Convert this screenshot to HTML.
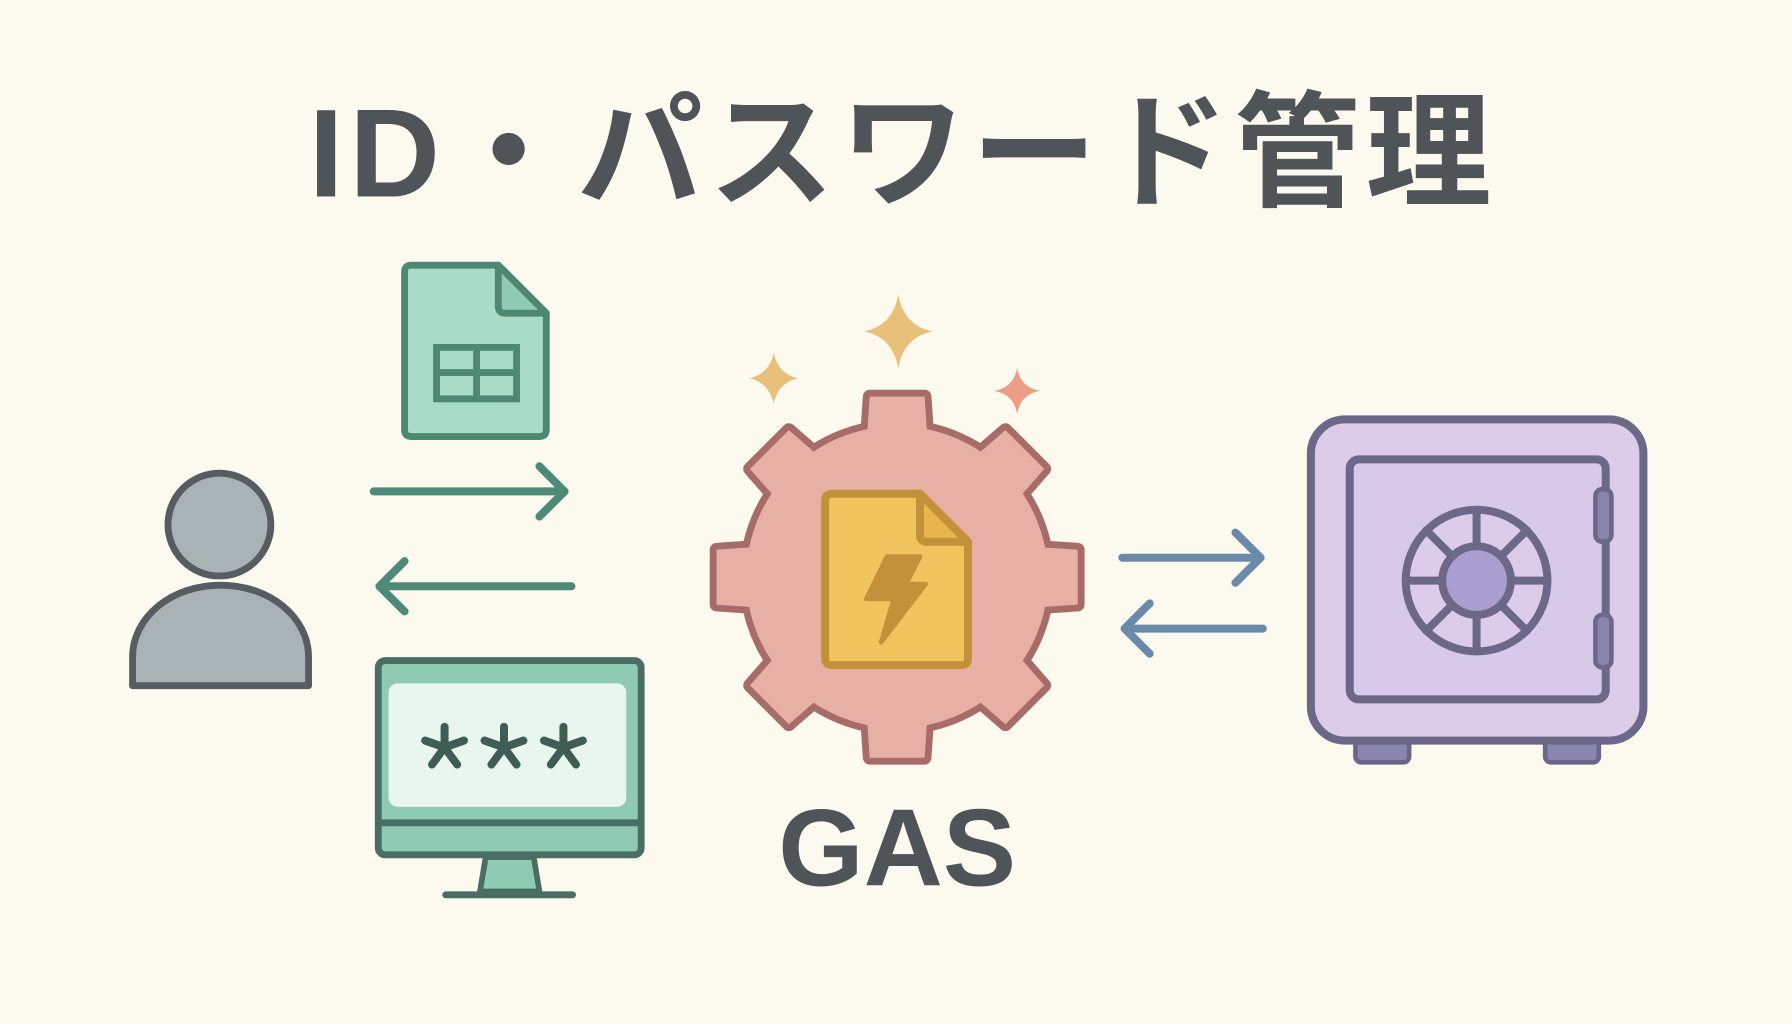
<!DOCTYPE html>
<html><head><meta charset="utf-8"><style>
html,body{margin:0;padding:0;background:#fcf9ef;}
svg{display:block}
</style></head><body>
<svg width="1792" height="1024" viewBox="0 0 1568 896" xmlns="http://www.w3.org/2000/svg">
<rect width="1568" height="896" fill="#fcf9ef"/>
<text x="790" y="172" text-anchor="middle" font-family="'Liberation Sans','Noto Sans CJK JP',sans-serif" font-weight="bold" font-size="110" letter-spacing="5" fill="#4f5458">ID・パスワード管理</text>

<!-- person -->
<circle cx="192" cy="459" r="45" fill="#a9b2b4" stroke="#565d62" stroke-width="6"/>
<path d="M116,600 L116,575 C116,540 150,512 193,512 C236,512 270,540 270,575 L270,600 Z" fill="#a9b2b4" stroke="#565d62" stroke-width="6" stroke-linejoin="round"/>

<!-- spreadsheet -->
<path d="M360,232 L436,232 L478,274 L478,376 Q478,382 472,382 L360,382 Q354,382 354,376 L354,238 Q354,232 360,232 Z" fill="#a8dcc6" stroke="#4f8872" stroke-width="6" stroke-linejoin="round"/>
<path d="M436,232 L436,268 Q436,274 442,274 L478,274 Z" fill="#8fcbb2" stroke="#4f8872" stroke-width="6" stroke-linejoin="round"/>
<rect x="382" y="304" width="70" height="45" fill="none" stroke="#4f8872" stroke-width="6"/>
<line x1="382" y1="326" x2="452" y2="326" stroke="#4f8872" stroke-width="6"/>
<line x1="417" y1="304" x2="417" y2="349" stroke="#4f8872" stroke-width="6"/>

<!-- green arrows -->
<g stroke="#4e8a78" stroke-width="7" stroke-linecap="round" stroke-linejoin="round" fill="none">
<line x1="327" y1="430" x2="494" y2="430"/><polyline points="472,408 494,430 472,452"/>
<line x1="334" y1="513" x2="500" y2="513"/><polyline points="354,491 332,513 354,535"/>
</g>

<!-- monitor -->
<rect x="331" y="578" width="230" height="170" rx="6" fill="#8fcbb2" stroke="#4a6e64" stroke-width="6"/>
<rect x="340" y="598" width="208" height="108" rx="8" fill="#e9f6ee"/>
<line x1="331" y1="720" x2="561" y2="720" stroke="#4a6e64" stroke-width="6"/>
<path d="M425,750 L467,750 L472,780 L420,780 Z" fill="#8fcbb2" stroke="#4a6e64" stroke-width="5" stroke-linejoin="round"/>
<line x1="390" y1="783" x2="501" y2="783" stroke="#4a6e64" stroke-width="6" stroke-linecap="round"/>
<g stroke="#3f5d55" stroke-width="7" stroke-linecap="round">
<g id="ast" transform="translate(389,654)"><line x1="0" y1="-18" x2="0" y2="0"/><line x1="0" y1="0" x2="17" y2="-6"/><line x1="0" y1="0" x2="-17" y2="-6"/><line x1="0" y1="0" x2="11" y2="15"/><line x1="0" y1="0" x2="-11" y2="15"/></g>
<use href="#ast" transform="translate(52,0)"/><use href="#ast" transform="translate(104,0)"/>
</g>

<!-- sparkles -->
<g>
<path d="M786,258 Q791,285 816,290 Q791,295 786,322 Q781,295 756,290 Q781,285 786,258Z" fill="#e9c07a"/>
<path d="M677,309 Q681,327 698,331 Q681,335 677,353 Q673,335 656,331 Q673,327 677,309Z" fill="#e9c07a"/>
<path d="M890,322 Q893,339 910,342 Q893,345 890,362 Q887,345 870,342 Q887,339 890,322Z" fill="#ec9d85"/>
</g>

<!-- gear -->
<g transform="translate(785,505)">
<g fill="#a86c68" stroke="#a86c68" stroke-width="12" stroke-linejoin="round">
<circle r="132"/>
<g id="t"><path d="M-28,-100 L-24,-158 L24,-158 L28,-100 Z"/></g>
<use href="#t" transform="rotate(45)"/><use href="#t" transform="rotate(90)"/><use href="#t" transform="rotate(135)"/>
<use href="#t" transform="rotate(180)"/><use href="#t" transform="rotate(225)"/><use href="#t" transform="rotate(270)"/><use href="#t" transform="rotate(315)"/>
</g>
<g fill="#e8b0a4">
<circle r="132"/>
<g id="t2"><path d="M-28,-100 L-24,-158 L24,-158 L28,-100 Z"/></g>
<use href="#t2" transform="rotate(45)"/><use href="#t2" transform="rotate(90)"/><use href="#t2" transform="rotate(135)"/>
<use href="#t2" transform="rotate(180)"/><use href="#t2" transform="rotate(225)"/><use href="#t2" transform="rotate(270)"/><use href="#t2" transform="rotate(315)"/>
</g>
</g>
<!-- gas doc -->
<path d="M728,432 L805,432 L847,474 L847,576 Q847,582 841,582 L728,582 Q722,582 722,576 L722,438 Q722,432 728,432 Z" fill="#f2c45e" stroke="#c2913a" stroke-width="7" stroke-linejoin="round"/>
<path d="M805,432 L805,468 Q805,474 811,474 L847,474 Z" fill="#e8b44e" stroke="#c2913a" stroke-width="7" stroke-linejoin="round"/>
<path d="M776,487 L805,487 L793,511 L810,511 L771,562 L782,524 L758,524 Z" fill="#c2913a" stroke="#c2913a" stroke-width="4" stroke-linejoin="round"/>

<text x="785" y="775" text-anchor="middle" font-family="'Liberation Sans',sans-serif" font-weight="bold" font-size="96" fill="#4f5458">GAS</text>

<!-- blue arrows -->
<g stroke="#6b8aaa" stroke-width="7" stroke-linecap="round" stroke-linejoin="round" fill="none">
<line x1="982" y1="488" x2="1103" y2="488"/><polyline points="1081,466 1103,488 1081,510"/>
<line x1="986" y1="550" x2="1105" y2="550"/><polyline points="1006,528 984,550 1006,572"/>
</g>

<!-- safe -->
<rect x="1186" y="640" width="47" height="27" rx="5" fill="#8a84b0" stroke="#6b6688" stroke-width="4"/>
<rect x="1352" y="640" width="47" height="27" rx="5" fill="#8a84b0" stroke="#6b6688" stroke-width="4"/>
<rect x="1147" y="367" width="291" height="281" rx="30" fill="#dccbe9" stroke="#6b6888" stroke-width="7"/>
<rect x="1181" y="402" width="224" height="210" rx="8" fill="#d8c8ea" stroke="#6b6888" stroke-width="7"/>
<rect x="1396" y="428" width="14" height="46" rx="6" fill="#8a84b0" stroke="#6b6888" stroke-width="4"/>
<rect x="1396" y="538" width="14" height="46" rx="6" fill="#8a84b0" stroke="#6b6888" stroke-width="4"/>
<g transform="translate(1292,508)" stroke="#6b6888" stroke-width="7" stroke-linecap="round">
<circle r="62" fill="#dccbe9"/>
<line x1="0" y1="-62" x2="0" y2="62"/><line x1="-62" y1="0" x2="62" y2="0"/>
<line x1="-44" y1="-44" x2="44" y2="44"/><line x1="-44" y1="44" x2="44" y2="-44"/>
<circle r="30" fill="#aa9fd0"/>
</g>
</svg>
</body></html>
